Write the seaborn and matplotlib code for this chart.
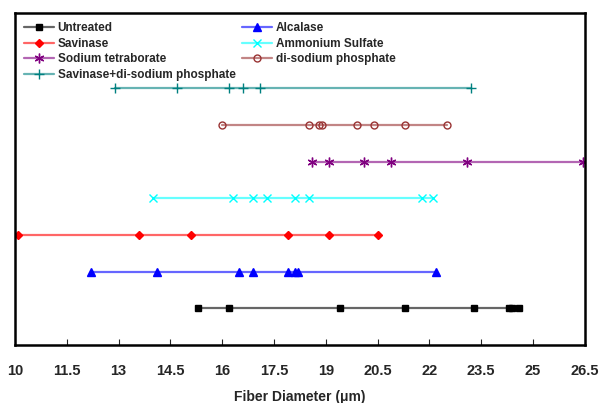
import matplotlib
matplotlib.use("Agg")
import matplotlib.pyplot as plt
import seaborn as sns
from matplotlib.colors import to_rgb

# fiber diameters (um), one row of points per treatment
untreated = [15.3, 16.2, 19.4, 21.3, 23.3, 24.3, 24.4, 24.6]
alcalase = [12.2, 14.1, 16.5, 16.9, 17.9, 18.1, 18.2, 22.2]
savinase = [10.1, 13.6, 15.1, 17.9, 19.1, 20.5]
ammonium = [14.0, 16.3, 16.9, 17.3, 18.1, 18.5, 21.8, 22.1]
tetraborate = [18.6, 19.1, 20.1, 20.9, 23.1, 26.45]
phosphate = [16.0, 18.5, 18.8, 18.9, 19.9, 20.4, 21.3, 22.5]
sav_phosphate = [12.9, 14.7, 16.2, 16.6, 17.1, 23.2]

names = ["Untreated", "Alcalase", "Savinase", "Ammonium Sulfate",
         "Sodium tetraborate", "di-sodium phosphate", "Savinase+di-sodium phosphate"]
values = [untreated, alcalase, savinase, ammonium, tetraborate, phosphate, sav_phosphate]
levels = [1, 2, 3, 4, 5, 6, 7]
colors = ["#000000", "#0000FF", "#FF0000", "#00FFFF", "#800080", "#993333", "#008080"]
markers = ["s", "^", "D", "x", (6, 2, 0), "o", "+"]
sizes = [4.5, 5.5, 4, 6, 7, 5, 7]
xticks = [10, 11.5, 13, 14.5, 16, 17.5, 19, 20.5, 22, 23.5, 25, 26.5]

sns.set_style("white")
plt.rcParams["font.family"] = ["Liberation Sans", "DejaVu Sans"]
plt.rcParams["font.weight"] = "bold"


def lighter(c, a=0.6):
    r, g, b = to_rgb(c)
    return (1 - a + a * r, 1 - a + a * g, 1 - a + a * b)


fig = plt.figure(figsize=(6.01, 4.03), dpi=100)
ax = fig.add_axes([0.025, 0.144, 0.948, 0.824])

for name, vals, lev, col, mk, ms in zip(names, values, levels, colors, markers, sizes):
    open_mk = mk == "o"
    sns.lineplot(x=vals, y=[lev] * len(vals), ax=ax, label=name,
                 color=lighter(col), lw=1.6, errorbar=None,
                 marker=mk, markersize=ms, markeredgewidth=1.0,
                 markerfacecolor="none" if open_mk else col,
                 markeredgecolor=col)

ax.set_xlim(10, 26.5)
ax.set_ylim(0, 9.05)
ax.set_xticks(xticks)
ax.set_xticklabels([f"{t:g}" for t in xticks], fontsize=10.5, fontweight="bold")
ax.set_yticks([])
ax.tick_params(axis="x", direction="in", length=4, width=0.8, pad=14, bottom=True)
ax.set_xlabel("Fiber Diameter (μm)", fontsize=10, fontweight="bold", labelpad=8)
ax.set_ylabel("")
for s in ax.spines.values():
    s.set_linewidth(1.8)
    s.set_color("black")

handles, labels = ax.get_legend_handles_labels()
order = [0, 2, 4, 6, 1, 3, 5]
ax.legend([handles[i] for i in order], [labels[i] for i in order],
          ncol=2, frameon=False, loc="upper left", bbox_to_anchor=(0.0, 1.0),
          prop={"size": 8.5, "weight": "bold"}, handlelength=2.5,
          handletextpad=0.3, columnspacing=0.6, labelspacing=0.3,
          borderaxespad=0.4)

fig.savefig("out.png", dpi=100)
